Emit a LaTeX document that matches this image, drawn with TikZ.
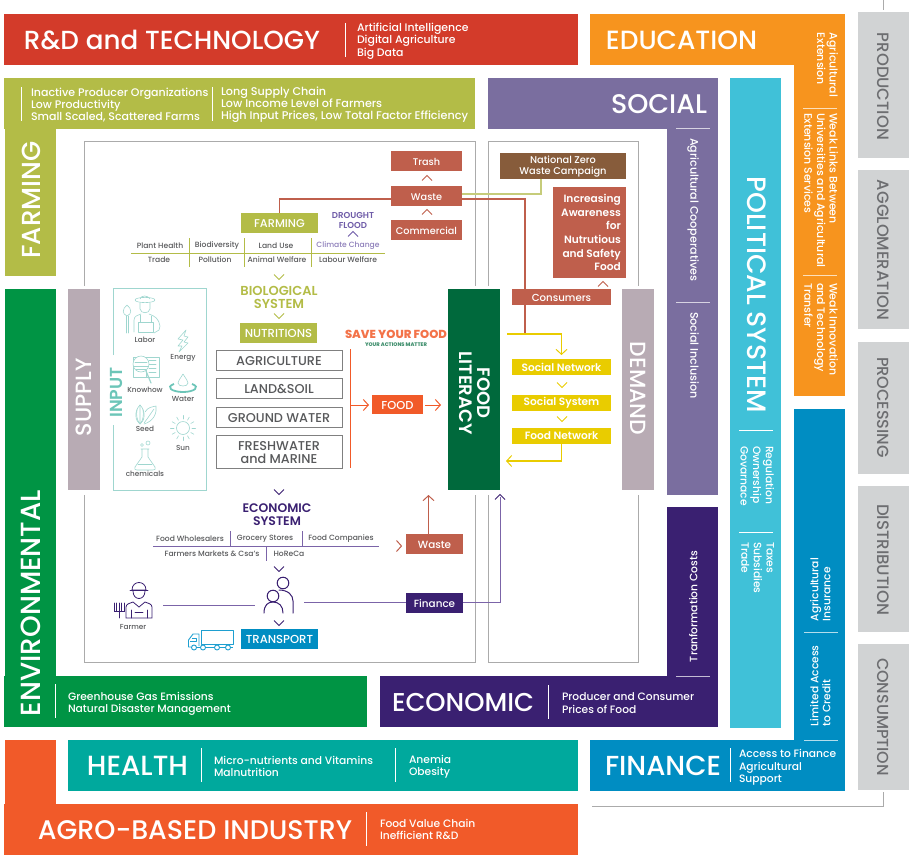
\documentclass[tikz,border=0pt]{standalone}
\usepackage{fontspec}
\usepackage{graphicx}
\setmainfont{Poppins Medium}[BoldFont={Poppins SemiBold}]
\newfontfamily\xbold{Poppins ExtraBold}
\usetikzlibrary{arrows.meta,calc}
\definecolor{cred}{HTML}{D33B2A}
\definecolor{corange}{HTML}{F7941E}
\definecolor{cgreen}{HTML}{009444}
\definecolor{colive}{HTML}{B3BC47}
\definecolor{csocial}{HTML}{7A6E9F}
\definecolor{chealth}{HTML}{00A99D}
\definecolor{cagro}{HTML}{F15A29}
\definecolor{cecon}{HTML}{3A2071}
\definecolor{cfin}{HTML}{008DC2}
\definecolor{cpol}{HTML}{40C1D8}
\definecolor{cgrey}{HTML}{D1D3D4}
\definecolor{cgtxt}{HTML}{6D6E71}
\definecolor{cmauve}{HTML}{B8ABB4}
\definecolor{cbrick}{HTML}{BF5F4C}
\definecolor{cbrown}{HTML}{875C3B}
\definecolor{cdark}{HTML}{00693C}
\definecolor{cyel}{HTML}{E9CC00}
\definecolor{cteal}{HTML}{9FD6CF}
\definecolor{cteald}{HTML}{6CC5B8}
\definecolor{cfarm}{HTML}{C6CC7A}
\definecolor{cmid}{HTML}{7B64A8}
\definecolor{cdro}{HTML}{6F5CA8}
\definecolor{ctxt}{HTML}{58595B}
\definecolor{cframe}{HTML}{ABABAB}
\definecolor{ctruck}{HTML}{1E9FD0}
\newcommand\fs[2]{\fontsize{#1}{#2}\selectfont}
\newcommand\fitw[2]{\resizebox{#1pt}{!}{#2}}
\newcommand\bx[6]{\pgfmathsetmacro\bw{#4-(#2)}\pgfmathsetmacro\bh{#5-(#3)}%
 \node[inner sep=0,outer sep=0,minimum width=\bw pt,minimum height=\bh pt,#6] (#1) at ({(#2+#4)/2},{(#3+#5)/2}) {};}
\newcommand\chD[3]{\draw[#3,line width=1pt] ({#1-5},{#2-2.5}) -- (#1,{#2+2.5}) -- ({#1+5},{#2-2.5});}
\newcommand\chU[3]{\draw[#3,line width=1pt] ({#1-5},{#2+2.5}) -- (#1,{#2-2.5}) -- ({#1+5},{#2+2.5});}
\tikzset{
 x=1pt,y=-1pt,
 wt/.style={text=white,inner sep=0,outer sep=0},
 ttl/.style={wt,anchor=center},
 sub/.style={wt,anchor=west,align=left,yshift=-1pt,font=\fs{10.7}{12.4}},
 subr/.style={wt,anchor=north west,rotate=-90,align=left,font=\fs{10.7}{12.6}},
 subu/.style={wt,anchor=north west,rotate=90,align=left,font=\fs{10.7}{12.2}},
 wl/.style={white,line width=.7pt},
 wl2/.style={white,line width=1pt,opacity=.7},
 frame/.style={draw=cframe,line width=1pt},
 boxt/.style={text=white,yshift=-.8pt,font=\fs{9.7}{12}},
 stackt/.style={text=ctxt,yshift=-.8pt,align=center,font=\fs{12.8}{13}},
 tbl/.style={inner sep=0,text=ctxt,yshift=-.5pt,font=\fs{7.6}{9}},
 stack/.style={draw=#1,fill=white,line width=.8pt},
 grt/.style={inner sep=0,text=cgtxt,rotate=-90,anchor=center},
 ico/.style={draw=cteal,line width=.6pt,line join=round,line cap=round},
 ilab/.style={inner sep=0,text=ctxt,font=\fs{7.3}{8}},
 pur/.style={draw=cecon,line width=1pt,line cap=round},
 tip/.style={-{Straight Barb[length=5pt,width=11pt,line width=1pt]}},
}
\begin{document}
\begin{tikzpicture}
\useasboundingbox (0,0) rectangle (909,859);
% frames
\draw[frame] (84,286) -- (84,141) -- (475,141) -- (475,286);
\draw[frame] (84,495) -- (84,662) -- (475,662) -- (475,495);
\draw[frame] (488,286) -- (488,141) -- (638,141) -- (638,286);
\draw[frame] (488,495) -- (488,662) -- (638,662) -- (638,495);
\draw[draw=cframe,line width=1pt] (883,0) -- (883,10);
\draw[draw=cframe,line width=1pt] (883,792) -- (883,806) -- (592,806);
% R&D
\bx{rd}{4}{14}{578}{65}{fill=cred}
\node[ttl] at (172,40) {\fitw{296}{R\&D and TECHNOLOGY}};
\draw[wl] (345,23) -- (345,57);
\node[sub,font=\fs{10.9}{12.4}] at (357,40) {Artificial Intelligence\\Digital Agriculture\\Big Data};
% Education
\bx{edu1}{590}{14}{845}{65}{fill=corange}
\bx{edu2}{794}{65}{845}{396}{fill=corange}
\node[ttl] at (681.5,40) {\fitw{151}{EDUCATION}};
\node[subr,font=\fs{10.9}{12.6}] at (838,33) {Agricultural\\Extension};
\node[subr,font=\fs{10.9}{12.6}] at (838,113) {Weak Links Between\\Universities and Agricultural\\Extension Services};
\node[subr,font=\fs{10.9}{12.6}] at (838,283) {Weak Innovation\\and Technology\\Transfer};
\draw[wl2] (803,108) -- (837,108);
\draw[wl2] (803,275) -- (837,275);
% Social
\bx{soc1}{488}{78}{718}{129}{fill=csocial}
\bx{soc2}{667}{129}{718}{495}{fill=csocial}
\node[ttl] at (659,104) {\fitw{96}{SOCIAL}};
\draw[wl2] (676,128.5) -- (710,128.5);
\draw[wl2] (676,302) -- (710,302);
\node[subr,font=\fs{11.1}{12.6}] at (699,138) {Agricultural Cooperatives};
\node[subr,font=\fs{11.1}{12.6}] at (699,312) {Social Inclusion};
% Political
\bx{pol}{730}{78}{781}{728}{fill=cpol}
\node[ttl,rotate=-90] at (757,294.5) {\fitw{236}{POLITICAL SYSTEM}};
\draw[wl] (739,430) -- (773,430);
\draw[wl] (739,532) -- (773,532);
\node[subr] at (774,446) {Regulation\\Ownership\\Govarnace};
\node[subr] at (774,542) {Taxes\\Subsidies\\Trade};
% Finance
\bx{fin1}{794}{409}{845}{740}{fill=cfin}
\bx{fin2}{590}{740}{845}{791}{fill=cfin}
\node[ttl] at (663,766) {\fitw{116}{FINANCE}};
\draw[wl] (730,748) -- (730,782);
\node[sub] at (739,766.5) {Access to Finance\\Agricultural\\Support};
\draw[wl2] (804,740) -- (838,740);
\draw[wl2] (804,632) -- (838,632);
\node[subu] at (810,621) {Agricultural\\Insurance};
\node[subu] at (810,726) {Limited Access\\to Credit};
% Economic
\bx{eco1}{380}{676}{718}{727}{fill=cecon}
\bx{eco2}{667}{507}{718}{676}{fill=cecon}
\node[ttl] at (463,702) {\fitw{142}{ECONOMIC}};
\draw[wl] (548,685) -- (548,719);
\node[sub] at (562,702) {Producer and Consumer\\Prices of Food};
\draw[wl2] (676,676) -- (710,676);
\node[subu] at (689,662) {Tranformation Costs};
% Environmental
\bx{env1}{5}{289}{56}{676}{fill=cgreen}
\bx{env2}{4}{676}{367}{727}{fill=cgreen}
\node[ttl,rotate=90] at (31,603) {\fitw{226}{ENVIRONMENTAL}};
\draw[wl] (55.5,684) -- (55.5,718);
\node[sub] at (68,703) {Greenhouse Gas Emissions\\Natural Disaster Management};
% Farming
\bx{far1}{4}{78}{475}{129}{fill=colive}
\bx{far2}{5}{129}{56}{276}{fill=colive}
\node[ttl,rotate=90] at (31,200) {\fitw{117}{FARMING}};
\draw[wl] (21.5,87) -- (21.5,121);
\draw[wl] (212,87) -- (212,121);
\node[sub,font=\fs{11}{12.2}] at (31,104) {Inactive Producer Organizations\\Low Productivity\\Small Scaled, Scattered Farms};
\node[sub,font=\fs{11.2}{12.2}] at (221,104) {Long Supply Chain\\Low Income Level of Farmers\\High Input Prices, Low Total Factor Efficiency};
% Health
\bx{hea}{68}{740}{578}{791}{fill=chealth}
\node[ttl] at (137.5,766) {\fitw{101}{HEALTH}};
\draw[wl] (201,748) -- (201,782);
\draw[wl] (395,748) -- (395,782);
\node[sub] at (214,765.5) {Micro-nutrients and Vitamins\\Malnutrition};
\node[sub] at (409,765.5) {Anemia\\Obesity};
% Agro
\bx{agr1}{5}{740}{56}{804}{fill=cagro}
\bx{agr2}{4}{804}{578}{855}{fill=cagro}
\node[ttl] at (195,830) {\fitw{314}{AGRO-BASED INDUSTRY}};
\draw[wl] (366,812) -- (366,846);
\node[sub] at (380,828.5) {Food Value Chain\\Inefficient R\&D};
% Grey stages
\bx{g1}{858}{12}{909}{158}{fill=cgrey}
\bx{g2}{858}{170}{909}{329}{fill=cgrey}
\bx{g3}{858}{342}{909}{474}{fill=cgrey}
\bx{g4}{858}{486}{909}{632}{fill=cgrey}
\bx{g5}{858}{644}{909}{790}{fill=cgrey}
\node[grt] at (883,86.5) {\fitw{107}{PRODUCTION}};
\node[grt] at (883,250) {\fitw{140}{AGGLOMERATION}};
\node[grt] at (883,407.5) {\fitw{101}{PROCESSING}};
\node[grt] at (883,559.5) {\fitw{111}{DISTRIBUTION}};
\node[grt] at (883,717) {\fitw{118}{CONSUMPTION}};
% Supply/Demand/Literacy
\bx{sup}{68}{289}{100}{490}{fill=cmauve}
\node[ttl,rotate=90] at (84,397) {\fitw{78}{SUPPLY}};
\bx{dem}{622}{289}{654}{490}{fill=cmauve}
\node[ttl,rotate=-90] at (638,388.5) {\fitw{93}{DEMAND}};
\bx{lit}{448}{289}{500}{490}{fill=cdark}
\node[ttl,rotate=-90,align=center,font=\fs{18}{18.5}\bfseries] at (475,393) {FOOD\\LITERACY};
% Input frame
\draw[draw=cteal,line width=1pt] (113,355) -- (113,288) -- (206,288) -- (206,490) -- (113,490) -- (113,425);
\node[inner sep=0,text=cteald,rotate=90,font=\fs{17.4}{17}\bfseries] at (116,392.5) {INPUT};
\node[ilab] at (145,340) {Labor};
\node[ilab] at (183,358) {Energy};
\node[ilab] at (145,390) {Knowhow};
\node[ilab] at (183,399) {Water};
\node[ilab] at (145,429) {Seed};
\node[ilab] at (183,448) {Sun};
\node[ilab] at (145,474) {chemicals};
% labor icon
\begin{scope}[shift={(145,315)}]
\draw[ico] (0,-15) ellipse (10 and 2.6);
\draw[ico] (-5,-16) .. controls (-4,-20) and (3,-20) .. (5,-16);
\draw[ico] (-5,-12) -- (-5,-6) .. controls (-4,-1) and (4,-1) .. (5,-6) -- (5,-12);
\draw[ico] (-11,17) -- (-11,5) .. controls (-11,1) and (-7,0) .. (-4,-1);
\draw[ico] (4,-1) .. controls (10,1) and (14,4) .. (15,11) -- (14,15) -- (9,18);
\draw[ico] (-7,17) -- (-7,7) -- (8,7) -- (8,17) -- cycle;
\draw[ico] (-5,7) -- (-5,0) (6,7) -- (6,1);
\draw[ico] (-18,-10) .. controls (-23,-6) and (-23,-1) .. (-18,1) .. controls (-13,-1) and (-13,-6) .. (-18,-10);
\draw[ico] (-19,1) -- (-19,18) (-17,1) -- (-17,18);
\end{scope}
% energy
\draw[ico] (186,330) -- (178,339) -- (183,340) -- (178,346) -- (182,346) -- (179,352) -- (188,343) -- (184,342) -- (188,337) -- (184,336) -- cycle;
% book
\begin{scope}[shift={(146,367)}]
\draw[ico] (-13,-10) rectangle (0,10);
\draw[ico] (0,-10) rectangle (13,10);
\draw[ico] (3,-7) -- (10,-7) (3,-3) -- (10,-3) (3,1) -- (10,1) (3,5) -- (10,5);
\draw[ico,fill=white] (-5,-3) circle (8);
\draw[ico] (-11,-5) -- (1,-5) (-12,-1) -- (2,-1) (-10,2) -- (0,2);
\draw[ico,line width=1.2pt] (0,4) -- (5,16);
\end{scope}
% water
\draw[ico] (183,374) .. controls (180,379) and (178,381) .. (178,383) .. controls (178,387) and (188,387) .. (188,383) .. controls (188,381) and (186,379) .. (183,374);
\draw[draw=cteald,line width=1.8pt] (174,384) .. controls (165,387) and (172,392) .. (183,392) .. controls (194,392) and (201,387) .. (192,384);
% seed
\begin{scope}[shift={(145,415)}]
\draw[ico] (-5,-10) .. controls (-11,-4) and (-10,6) .. (-5,9) .. controls (0,6) and (1,-4) .. (-5,-10);
\draw[ico] (-5,-10) -- (-5,9) (-8,-5) .. controls (-9,0) and (-8,4) .. (-6,8) (-2,-5) .. controls (-1,0) and (-2,4) .. (-4,8);
\draw[ico] (0,-3) .. controls (3,-8) and (7,-8) .. (11,-9) .. controls (12,-2) and (9,6) .. (-1,9);
\draw[ico] (9,-6) .. controls (6,-2) and (3,3) .. (-1,8);
\end{scope}
% sun
\draw[ico] (183,428) circle (6.5);
\foreach \ra in {0,30,...,330}{\draw[ico] ($(183,428)+(\ra:9)$) -- ($(183,428)+(\ra:12.5)$);}
% flask
\draw[ico] (141,449) -- (149,449) (142,449) -- (142,457) -- (135,467) .. controls (134,469) and (135,470) .. (137,470) -- (153,470) .. controls (155,470) and (156,469) .. (155,467) -- (148,457) -- (148,449);
\draw[ico] (138,464) -- (152,464);
\draw[ico] (142,445) circle (1.5) (148,443) circle (2);
% Farming cluster
\bx{farmb}{241}{213}{318}{233}{fill=colive}
\node[boxt,font=\fs{11.3}{12}] at (farmb) {FARMING};
\node[inner sep=0,text=cdro,align=center,font=\fs{8.6}{10}\bfseries] (drought) at (353,220) {DROUGHT\\FLOOD};
\chU{353}{234}{cdro}
\draw[colive,line width=.8pt] (131,253) -- (385,253);
\draw[colive,line width=.8pt] (189,238) -- (189,267) (244,238) -- (244,267) (311,238) -- (311,267);
\node[tbl] at (160,245) {Plant Health};
\node[tbl] at (217,245) {Biodiversity};
\node[tbl] at (276,245) {Land Use};
\node[tbl,text=cdro!80] at (348,245) {Climate Change};
\node[tbl] at (159,259) {Trade};
\node[tbl] at (215,259) {Pollution};
\node[tbl] at (277,259) {Animal Welfare};
\node[tbl] at (348,259) {Labour Welfare};
\chD{279}{277}{colive}
\node[inner sep=0,text=colive,align=center,font=\fs{13}{13}\bfseries] (bio) at (279,297.5) {BIOLOGICAL\\SYSTEM};
\chD{279}{316}{colive}
\bx{nut}{240}{323}{317}{343}{fill=colive}
\node[boxt,font=\fs{11.6}{12}] at (nut) {NUTRITIONS};
\bx{agri}{216}{350}{342}{370}{stack=gray}
\bx{land}{216}{378}{342}{398}{stack=gray}
\bx{gw}{216}{407}{342}{427}{stack=gray}
\bx{fw}{216}{435}{342}{468}{stack=gray}
\node[stackt] at (agri) {AGRICULTURE};
\node[stackt] at (land) {LAND\&SOIL};
\node[stackt] at (gw) {GROUND WATER};
\node[stackt] at (fw) {FRESHWATER\\and MARINE};
% Food
\coordinate (bt) at (350,349);
\coordinate (bb) at (350,468);
\coordinate (bm) at (350,405);
\draw[cagro,line width=1pt] (bt) -- (bb);
\bx{food}{372}{395}{423}{414}{fill=cagro}
\node[boxt,font=\fs{11.5}{12}] at (food) {FOOD};
\draw[cagro,line width=1pt,tip,shorten >=3pt] (bm) -- (food.west|-bm);
\draw[cagro,line width=1pt,tip,shorten <=2pt,shorten >=7pt] (food.east|-bm) -- (lit.west|-bm);
\node[inner sep=0,text=cagro!85] (save) at (396,334) {\fitw{102}{\xbold SAVE YOUR FOOD}};
\node[inner sep=0,text=cdark!75] (acts) at (396,345) {\fitw{62}{\xbold YOUR ACTIONS MATTER}};
% Waste cluster
\bx{trash}{391}{151}{462}{171}{fill=cbrick}
\bx{wa}{391}{186}{462}{206}{fill=cbrick}
\bx{comm}{391}{220}{462}{240}{fill=cbrick}
\node[boxt] at (trash) {Trash};
\node[boxt] at (wa) {Waste};
\node[boxt] at (comm) {Commercial};
\chU{427}{178}{cbrick}
\chU{427}{212}{cbrick}
\draw[cbrick,line width=1.2pt] ([yshift=-3pt]wa.west) -| (farmb.north);
\bx{nat}{500}{153}{626}{179}{fill=cbrown}
\node[boxt,align=center,font=\fs{9.8}{11}] at (nat) {National Zero\\Waste Campaign};
\draw[cfarm,line width=1.2pt] ([yshift=2pt]wa.east) -| ([xshift=-22pt]nat.south);
\coordinate (j1) at (525,334);
\coordinate (j0) at (507,334);
\coordinate (j2) at (506,461);
\draw[cbrick,line width=1.2pt] ([yshift=-3pt]wa.east) -| (j1);
\bx{inc}{553}{187}{626}{278}{fill=cbrick}
\node[inner sep=0,text=white,align=right,anchor=east,font=\fs{10.6}{13.6}\bfseries] at (621,232.5) {Increasing\\Awareness\\for\\Nutrutious\\and Safety\\Food};
\bx{cons}{512}{289}{611}{305}{fill=cbrick}
\node[boxt,font=\fs{10.2}{11}] at (cons) {Consumers};
\chU{603}{284}{cbrick}
\bx{sn}{512}{359}{611}{375}{fill=cyel}
\bx{ss}{512}{395}{611}{411}{fill=cyel}
\bx{fn}{512}{428}{611}{444}{fill=cyel}
\node[text=white,font=\fs{10.6}{11}\bfseries] at (sn) {Social Network};
\node[text=white,font=\fs{10.6}{11}\bfseries] at (ss) {Social System};
\node[text=white,font=\fs{10.6}{11}\bfseries] at (fn) {Food Network};
\chD{562}{385}{cyel}
\chD{562}{419}{cyel}
\draw[cyel,line width=1.1pt,tip,shorten >=4pt] (j0) -| (sn.north);
\draw[cyel,line width=1.1pt,tip] (fn.south) |- (j2);
% Economic system
\chD{279}{492}{cecon}
\node[inner sep=0,text=cecon,align=center,font=\fs{12.4}{13.4}\bfseries] (ecs) at (277,514.5) {ECONOMIC\\SYSTEM};
\draw[cmid,line width=1pt] (153,546) -- (379,546);
\draw[cmid,line width=.9pt] (230,531) -- (230,546) (302,531) -- (302,546) (266,546) -- (266,561);
\node[tbl] at (190,538) {Food Wholesalers};
\node[tbl] at (265,538) {Grocery Stores};
\node[tbl] at (341,538) {Food Companies};
\node[tbl] at (212,553) {Farmers Markets \& Csa's};
\node[tbl] at (289,553) {HoReCa};
\draw[cbrick,line width=1pt] (396.5,540.5) -- (401.5,546) -- (396.5,551.5);
\bx{wb}{406}{534}{463}{554}{fill=cbrick}
\node[boxt,font=\fs{10.4}{12}] at (wb) {Waste};
\draw[cbrick,line width=1pt,tip,shorten >=5pt] ([xshift=-6pt]wb.north) -- ([xshift=-6pt]wb.north|-lit.south);
\chD{279}{569}{cecon}
\coordinate (peopW) at (255,605);
\coordinate (peopE) at (304,602);
\coordinate (farmE) at (163,605);
% people
\draw[pur] (283,583) circle (5.8);
\draw[pur] (279,590) .. controls (288,590) and (293,595) .. (293,601) -- (293,613);
\draw[pur] (273,596) circle (5.8);
\draw[pur] (264,613) .. controls (264,605) and (268,602) .. (273,602) .. controls (279,602) and (283,606) .. (283,613);
\draw[cmid,line width=1pt] (farmE) -- (peopW);
\bx{finb}{406}{593}{463}{613}{fill=cecon}
\node[boxt,font=\fs{10.4}{12}] at (finb) {Finance};
\draw[cmid,line width=1pt] (peopE) -- (finb.west|-peopE);
\draw[cmid,line width=1pt] (finb.east|-peopE) -| (500,497);
\chU{500}{497}{cecon}
% farmer
\begin{scope}[shift={(139,600)}]
\draw[pur,line width=.8pt] (-7,-10) .. controls (-7,-20) and (7,-20) .. (7,-10) -- cycle;
\draw[pur,line width=.8pt] (-9,-10) -- (9,-10);
\draw[pur,line width=.8pt] (-6,-9) .. controls (-6,1) and (6,1) .. (6,-9);
\draw[pur,line width=.8pt] (-13,18) -- (-13,7) .. controls (-13,4) and (-9,3) .. (-6,2) -- (0,7) -- (6,2) .. controls (9,3) and (13,4) .. (13,7) -- (13,18) -- cycle;
\draw[pur,line width=.8pt] (-8,10) -- (-8,18) (8,10) -- (8,18) (-4,12) -- (4,12);
\draw[pur,line width=.8pt] (-25,3) -- (-25,11) -- (-15,11) -- (-15,3) (-20,3) -- (-20,18) (-22.5,3) -- (-22.5,11) (-17.5,3) -- (-17.5,11);
\end{scope}
\node[ilab] at (133,627) {Farmer};
\chD{279}{623}{cecon}
\bx{tra}{241}{629}{318}{649}{fill=cfin}
\node[boxt,font=\fs{11.6}{12}] at (tra) {TRANSPORT};
% truck
\begin{scope}[draw=ctruck,line width=.9pt,line join=round]
\draw (201,630) rectangle (233,644);
\draw (199,646) -- (199,634) -- (193,634) -- (188.5,640) -- (188.5,647) -- (191,647);
\draw (192,638) -- (196,638) -- (196,641) -- (190,641);
\draw (197,647) -- (200,647) (206,647) -- (214,647) (220,647) -- (225,647) (231,647) -- (233,647);
\draw (194,647.5) circle (2.5) (203,647.5) circle (2.5) (217,647.5) circle (2.5) (228,647.5) circle (2.5);
\end{scope}
\end{tikzpicture}
\end{document}
